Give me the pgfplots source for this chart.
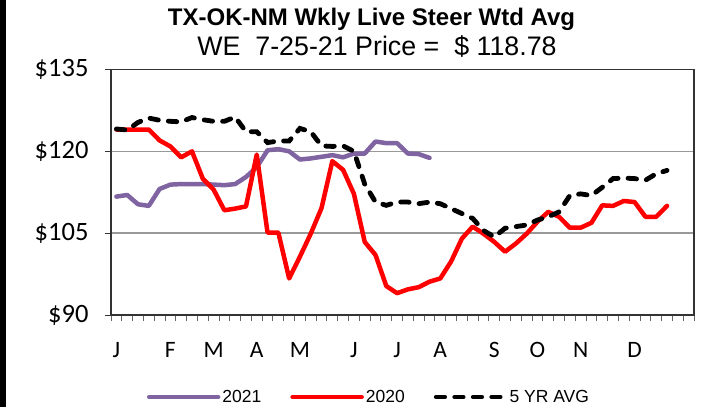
\documentclass[border=0pt]{standalone}
\usepackage{fontspec}
\setmainfont{Liberation Sans}
\newfontfamily\carlito{Carlito}
\usepackage{pgfplots}
\usepackage{pgfplotstable}
\pgfplotsset{compat=1.18}
\definecolor{purp}{HTML}{8064A2}

\pgfplotstableread{
i v
0 111.7
1 112.0
2 110.3
3 110.0
4 113.1
5 113.9
6 114.0
7 114.0
8 114.0
9 113.9
10 113.8
11 114.0
12 115.3
13 117.1
14 120.2
15 120.4
16 120.0
17 118.5
18 118.7
19 119.0
20 119.3
21 118.9
22 119.6
23 119.6
24 121.8
25 121.5
26 121.5
27 119.6
28 119.5
29 118.8
}\yrA

\pgfplotstableread{
i v
0 124.0
1 124.0
2 124.0
3 124.0
4 122.0
5 120.9
6 118.9
7 120.0
8 115.0
9 113.0
10 109.2
11 109.5
12 109.9
13 119.4
14 105.1
15 105.1
16 96.7
17 100.7
18 104.9
19 109.6
20 118.2
21 116.6
22 112.2
23 103.4
24 101.0
25 95.3
26 94.0
27 94.7
28 95.1
29 96.1
30 96.7
31 99.8
32 104.0
33 106.2
34 104.9
35 103.4
36 101.6
37 103.1
38 104.9
39 107.1
40 108.9
41 108.0
42 106.0
43 106.0
44 106.9
45 110.1
46 110.0
47 110.9
48 110.7
49 108.0
50 108.0
51 110.0
}\yrB

\pgfplotstableread{
i v
0 124.1
1 123.9
2 125.3
3 126.1
4 125.7
5 125.5
6 125.4
7 126.2
8 125.8
9 125.5
10 125.5
11 126.3
12 123.6
13 123.6
14 121.6
15 121.9
16 121.9
17 124.2
18 123.6
19 121.0
20 120.9
21 121.0
22 120.0
23 114.0
24 110.7
25 110.1
26 110.7
27 110.7
28 110.4
29 110.7
30 110.4
31 109.5
32 108.6
33 107.7
34 105.5
35 104.3
36 105.9
37 106.2
38 106.5
39 107.4
40 108.0
41 108.9
42 111.9
43 112.2
44 111.9
45 113.4
46 115.0
47 115.1
48 115.0
49 114.7
50 115.9
51 116.5
}\yrC

\begin{document}
\begin{tikzpicture}
\useasboundingbox (0pt,0pt) rectangle (703pt,407pt);
\fill[black] (0pt,0pt) rectangle (6pt,407pt);
\node[font=\bfseries\fontsize{24}{24}\selectfont, anchor=base, inner sep=0pt] at (371.5pt,381pt) {TX-OK-NM Wkly Live Steer Wtd Avg};
\node[font=\fontsize{26.8}{27}\selectfont, anchor=base, inner sep=0pt] at (377pt,351pt) {WE\ \ 7-25-21 Price =\ \ \$ 118.78};
\begin{axis}[
  at={(111pt,92pt)}, anchor=south west,
  scale only axis, width=583pt, height=245.5pt,
  xmin=-0.5, xmax=53.5, ymin=90, ymax=135,
  axis line style={black!80, line width=1.2pt},
  tick pos=left, tick align=outside,
  major tick length=6pt,
  xtick={-0.5,0.5,...,53.5}, xticklabels={},
  xtick style={draw=black!60, line width=0.9pt},
  extra x ticks={0,5,9,13,17,22,26,30,35,39,43,48},
  extra x tick labels={J,F,M,A,M,J,J,A,S,O,N,D},
  extra x tick style={major tick length=0pt, grid=none,
     tick label style={font=\carlito\fontsize{23.5}{24}\selectfont, yshift=-24pt}},
  ytick={90,105,120,135},
  yticklabels={\$90,\$105,\$120,\$135},
  ytick style={draw=black!80, line width=0.9pt},
  yticklabel style={font=\carlito\fontsize{26.5}{27}\selectfont, xshift=-13pt},
  ymajorgrids, major grid style={draw=black!40, line width=1.6pt},
  legend style={at={(rel axis cs:0.4425,-0.334)}, anchor=center, draw=none, fill=none,
     legend columns=3, font=\fontsize{17.5}{18}\selectfont,
     /tikz/every even column/.append style={column sep=27pt}},
  legend image code/.code={\draw[#1] (0pt,0pt) -- (69pt,0pt);},
]
\addplot[purp, line width=4.5pt, line join=round, line cap=round] table[x=i,y=v] {\yrA};
\addlegendentry{2021}
\addplot[red, line width=4.5pt, line join=round, line cap=round] table[x=i,y=v] {\yrB};
\addlegendentry{2020}
\addplot[black, line width=4.8pt, line cap=round, dash pattern=on 8.5pt off 10pt] table[x=i,y=v] {\yrC};
\addlegendentry{5 YR AVG}
\end{axis}
\end{tikzpicture}
\end{document}
